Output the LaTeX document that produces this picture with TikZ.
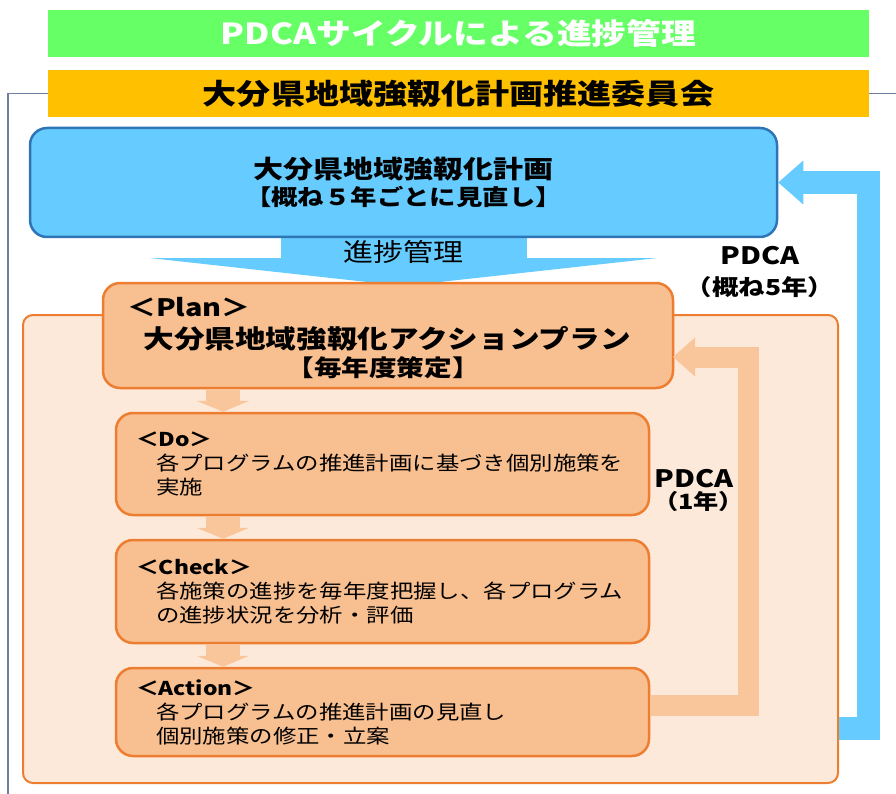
\documentclass[tikz,border=0pt]{standalone}
\usepackage{fontspec}
\setmainfont{Noto Sans CJK JP}[FakeStretch=1.2]
\usetikzlibrary{arrows.meta}

\definecolor{barGreen}{HTML}{66FF66}
\definecolor{barGold}{HTML}{FFC000}
\definecolor{skyFill}{HTML}{66CCFF}
\definecolor{skyLine}{HTML}{2E75B6}
\definecolor{peachBack}{HTML}{FDE9D9}
\definecolor{peachFill}{HTML}{F8BF90}
\definecolor{peachArrow}{HTML}{F9C69C}
\definecolor{orangeLine}{HTML}{ED7D31}
\definecolor{frameGray}{HTML}{6F7F9F}

\newcommand\stagehead[1]{{\bfseries\fontsize{19}{24}\selectfont ＜#1＞}}
\newcommand\stageindent{\hspace*{20pt}}

\tikzset{
  titlebar/.style={minimum width=821pt, minimum height=47pt, inner sep=0pt,
    font=\bfseries\fontsize{28.4}{30}\selectfont},
  skybox/.style={draw=skyLine, fill=skyFill, line width=2.5pt, rounded corners=17pt,
    minimum width=747pt, minimum height=109pt, align=center, font=\bfseries},
  cyclebox/.style={draw=orangeLine, fill=peachBack, line width=2pt, rounded corners=10pt},
  planbox/.style={draw=orangeLine, fill=peachFill, line width=2.5pt, rounded corners=17pt},
  stepbox/.style={planbox, text width=493pt, inner xsep=20pt, inner ysep=0pt,
    align=left, font=\fontsize{19.5}{24}\selectfont},
  plaintext/.style={inner sep=0pt},
  frameline/.style={draw=frameGray, line width=1.2pt},
  smallarrow/.style={draw=peachArrow, line width=34pt,
    -{Triangle[width=53pt,length=11pt,line width=0pt]}},
  skyflow/.style={draw=skyFill, line width=246pt,
    -{Triangle[width=508pt,length=28pt,line width=0pt]}},
  skyloop/.style={draw=skyFill, line width=23pt, line join=miter,
    -{Triangle[width=44pt,length=25pt,line width=0pt]}},
  peachloop/.style={draw=peachArrow, line width=21pt, line join=miter,
    -{Triangle[width=39pt,length=22pt,line width=0pt]}},
}

\begin{document}
\begin{tikzpicture}[x=1pt,y=-1pt]
\useasboundingbox (0,0) rectangle (896,794);

% headline bars and frame
\node[titlebar, fill=barGreen, text=white, font=\bfseries\fontsize{29}{30}\selectfont] (cycle) at (458.5,33.5) {PDCAサイクルによる進捗管理};
\node[titlebar, fill=barGold] (committee) at (458.5,93.5) {大分県地域強靱化計画推進委員会};
\draw[frameline] (committee.west) -| (8,794);
\draw[frameline] (committee.east) -- (896,93.5);

% five-year plan
\coordinate (flowtop) at (403.5,236);
\coordinate (flowtip) at (403.5,286);
\draw[skyflow] (flowtop) -- (flowtip);
\node[skybox] (plan5) at (403.5,182.5) {\fontsize{25}{28}\selectfont 大分県地域強靱化計画\\[4pt]
  \fontsize{22}{26}\selectfont 【概ね５年ごとに見直し】};
\node[plaintext, font=\fontsize{25}{26}\selectfont] (flowlabel) at (403,252) {進捗管理};

% yearly cycle
\node[cyclebox, minimum width=815pt, minimum height=468pt] (cycle1) at (430.5,549) {};
\node[planbox, minimum width=570pt, minimum height=105pt] (plan) at (388,335.5) {};
\node[plaintext, anchor=west, font=\bfseries\fontsize{24}{26}\selectfont] (planlabel) at (127,307) {＜Plan＞};
\node[plaintext, font=\bfseries\fontsize{25.5}{27}\selectfont] (plantitle) at (387,339) {大分県地域強靱化アクションプラン};
\node[plaintext, font=\bfseries\fontsize{23}{25}\selectfont] (plansub) at (383,368) {【毎年度策定】};

\node[stepbox, minimum height=102pt] (do) at (382.5,464) {\stagehead{Do}\\
  \stageindent 各プログラムの推進計画に基づき個別施策を\\
  \stageindent 実施};
\node[stepbox, minimum height=103pt] (check) at (382.5,591.5) {\stagehead{Check}\\
  \stageindent 各施策の進捗を毎年度把握し、各プログラム\\
  \stageindent の進捗状況を分析・評価};
\node[stepbox, minimum height=88pt] (action) at (382.5,712) {\stagehead{Action}\\
  \stageindent 各プログラムの推進計画の見直し\\
  \stageindent 個別施策の修正・立案};

\coordinate (stemx) at (223,0);
\foreach \a/\b in {plan/do, do/check, check/action}
  \draw[smallarrow] (stemx |- \a.south) -- (stemx |- \b.north);

% return arrows
\coordinate (peachbend) at (748.5,705);
\coordinate (peachtip) at (673,357);
\draw[peachloop] (action.east |- peachbend) -- (peachbend) |- (peachtip);
\coordinate (skybend) at (868,728.5);
\draw[skyloop] (cycle1.east |- skybend) -- (skybend) |- (plan5.east);

\node[plaintext, font=\bfseries\fontsize{24}{26}\selectfont] (pdca5) at (760,256) {PDCA};
\node[plaintext, font=\bfseries\fontsize{22}{24}\selectfont] (pdca5span) at (760,287) {（概ね5年）};
\node[plaintext, font=\bfseries\fontsize{24}{26}\selectfont] (pdca1) at (694,479) {PDCA};
\node[plaintext, font=\bfseries\fontsize{21}{23}\selectfont] (pdca1span) at (698.5,502) {（1年）};
\end{tikzpicture}
\end{document}
